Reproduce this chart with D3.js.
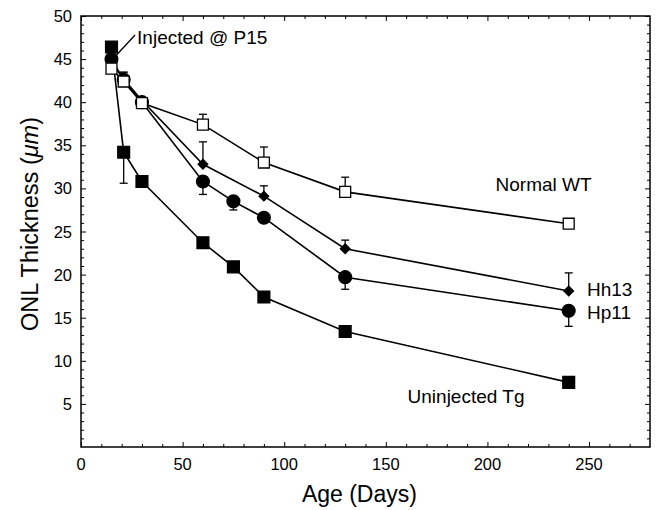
<!DOCTYPE html>
<html>
<head>
<meta charset="utf-8">
<script src="https://cdn.jsdelivr.net/npm/d3@7"></script>
<style>
  body { margin: 0; background: #fff; }
  text { font-family: "Liberation Sans", Arial, sans-serif; fill: #000; }
</style>
</head>
<body>
<div id="chart"></div>
<script>
// series: age (days), thickness, error (signed: + up, - down)
const tgDays = [15, 21, 30, 60, 75, 90, 130, 240];
const tgVals = [46.4, 34.2, 30.8, 23.7, 20.9, 17.4, 13.4, 7.5];
const tgErr  = [0, -3.6, 0, 0, 0, 0, 0, 0];

const wtDays = [15, 21, 30, 60, 90, 130, 240];
const wtVals = [43.9, 42.4, 39.9, 37.4, 33.0, 29.6, 25.9];
const wtErr  = [0, 1.0, 0, 1.2, 1.8, 1.7, 0];

const hhDays = [15, 21, 30, 60, 90, 130, 240];
const hhVals = [44.6, 42.7, 40.2, 32.8, 29.1, 23.0, 18.1];
const hhErr  = [0, 0.8, 0, 2.6, 1.2, 1.0, 2.1];

const hpDays = [15, 21, 30, 60, 75, 90, 130, 240];
const hpVals = [45.0, 42.6, 40.0, 30.8, 28.5, 26.6, 19.7, 15.8];
const hpErr  = [0, 0, 0, -1.5, -1.0, 0, -1.4, -1.8];

const xMajor = [0, 50, 100, 150, 200, 250];
const yMajor = [5, 10, 15, 20, 25, 30, 35, 40, 45, 50];

const W = 658, H = 510;
const margin = { top: 16, right: 8, bottom: 63, left: 81 };
const width = W - margin.left - margin.right,
      height = H - margin.top - margin.bottom;

const svg = d3.select("#chart").append("svg")
    .attr("width", W).attr("height", H);
const g = svg.append("g")
    .attr("transform", `translate(${margin.left},${margin.top})`);

const x = d3.scaleLinear().domain([0, 280]).range([0, width]);
const y = d3.scaleLinear().domain([0, 50]).range([height, 0]);

// frame
g.append("rect").attr("width", width).attr("height", height)
    .attr("fill", "none").attr("stroke", "#000").attr("stroke-width", 1.5);

// ticks (inward) on all four sides
const xMinor = d3.range(10, 280, 10).filter(v => v % 50 !== 0);
const yMinor = d3.range(1, 50, 1).filter(v => v % 5 !== 0);

function ticks(axisFn, vals, size, transform) {
  const a = g.append("g").attr("transform", transform)
    .call(axisFn.tickValues(vals).tickSize(size).tickFormat(""));
  a.select(".domain").remove();
  a.selectAll("line").attr("stroke", "#000").attr("stroke-width", 1);
}
ticks(d3.axisTop(x), xMajor, 5, `translate(0,${height})`);
ticks(d3.axisTop(x), xMinor, 3, `translate(0,${height})`);
ticks(d3.axisBottom(x), xMajor, 5, `translate(0,0)`);
ticks(d3.axisBottom(x), xMinor, 3, `translate(0,0)`);
ticks(d3.axisRight(y), yMajor, 5, `translate(0,0)`);
ticks(d3.axisRight(y), yMinor, 3, `translate(0,0)`);
ticks(d3.axisLeft(y), yMajor, 5, `translate(${width},0)`);
ticks(d3.axisLeft(y), yMinor, 3, `translate(${width},0)`);

// tick labels
g.selectAll(".xl").data(xMajor).enter().append("text")
    .attr("x", d => x(d)).attr("y", height + 23)
    .attr("text-anchor", "middle").style("font-size", "16.5px").text(d => d);
g.selectAll(".yl").data(yMajor).enter().append("text")
    .attr("x", -9).attr("y", d => y(d) + 6)
    .attr("text-anchor", "end").style("font-size", "16.5px").text(d => d);

// axis titles
svg.append("text").attr("x", margin.left + x(137)).attr("y", 502)
    .attr("text-anchor", "middle").style("font-size", "23px").text("Age (Days)");
const yt = svg.append("text")
    .attr("transform", `translate(38,224) rotate(-90)`)
    .attr("text-anchor", "middle").style("font-size", "23.5px");
yt.append("tspan").text("ONL Thickness (");
yt.append("tspan").style("font-style", "italic").text("\u03bcm");
yt.append("tspan").text(")");

const line = d3.line().x(d => x(d[0])).y(d => y(d[1]));
const zip = (a, b, c) => a.map((v, i) => [v, b[i], c[i]]);

function series(days, vals, errs, marker) {
  const data = zip(days, vals, errs);
  const s = g.append("g");
  s.append("path").datum(data).attr("d", line)
      .attr("fill", "none").attr("stroke", "#000").attr("stroke-width", 1.6);
  const eb = data.filter(d => d[2] !== 0);
  s.selectAll(".eb").data(eb).enter().append("line")
      .attr("x1", d => x(d[0])).attr("x2", d => x(d[0]))
      .attr("y1", d => y(d[1])).attr("y2", d => y(d[1] + d[2]))
      .attr("stroke", "#000").attr("stroke-width", 1.3);
  s.selectAll(".cap").data(eb).enter().append("line")
      .attr("x1", d => x(d[0]) - 4).attr("x2", d => x(d[0]) + 4)
      .attr("y1", d => y(d[1] + d[2])).attr("y2", d => y(d[1] + d[2]))
      .attr("stroke", "#000").attr("stroke-width", 1.3);
  marker(s.selectAll(".m").data(data).enter());
}

const sym = (type, size, fill) => sel => sel.append("path")
    .attr("transform", d => `translate(${x(d[0])},${y(d[1])})`)
    .attr("d", d3.symbol().type(type).size(size))
    .attr("fill", fill).attr("stroke", "#000").attr("stroke-width", 1.3);

series(tgDays, tgVals, tgErr, sym(d3.symbolSquare, 140, "#000"));
series(hpDays, hpVals, hpErr, sym(d3.symbolCircle, 130, "#000"));
series(hhDays, hhVals, hhErr, sel => sel.append("path")
    .attr("transform", d => `translate(${x(d[0])},${y(d[1])}) rotate(45)`)
    .attr("d", d3.symbol().type(d3.symbolSquare).size(50))
    .attr("fill", "#000").attr("stroke", "#000").attr("stroke-width", 1));
series(wtDays, wtVals, wtErr, sym(d3.symbolSquare, 120, "#fff"));

// annotations
g.append("line").attr("x1", x(17.6)).attr("y1", y(45.5))
    .attr("x2", x(26.6)).attr("y2", y(47.8))
    .attr("stroke", "#000").attr("stroke-width", 1.3);
const note = (t, vx, vy) => g.append("text")
    .attr("x", x(vx)).attr("y", y(vy))
    .style("font-size", "19px").text(t);
note("Injected @ P15", 27.6, 46.7);
note("Normal WT", 204, 29.65);
note("Hh13", 249, 17.5);
note("Hp11", 249, 14.9);
note("Uninjected Tg", 160.7, 5.06);
</script>
</body>
</html>
